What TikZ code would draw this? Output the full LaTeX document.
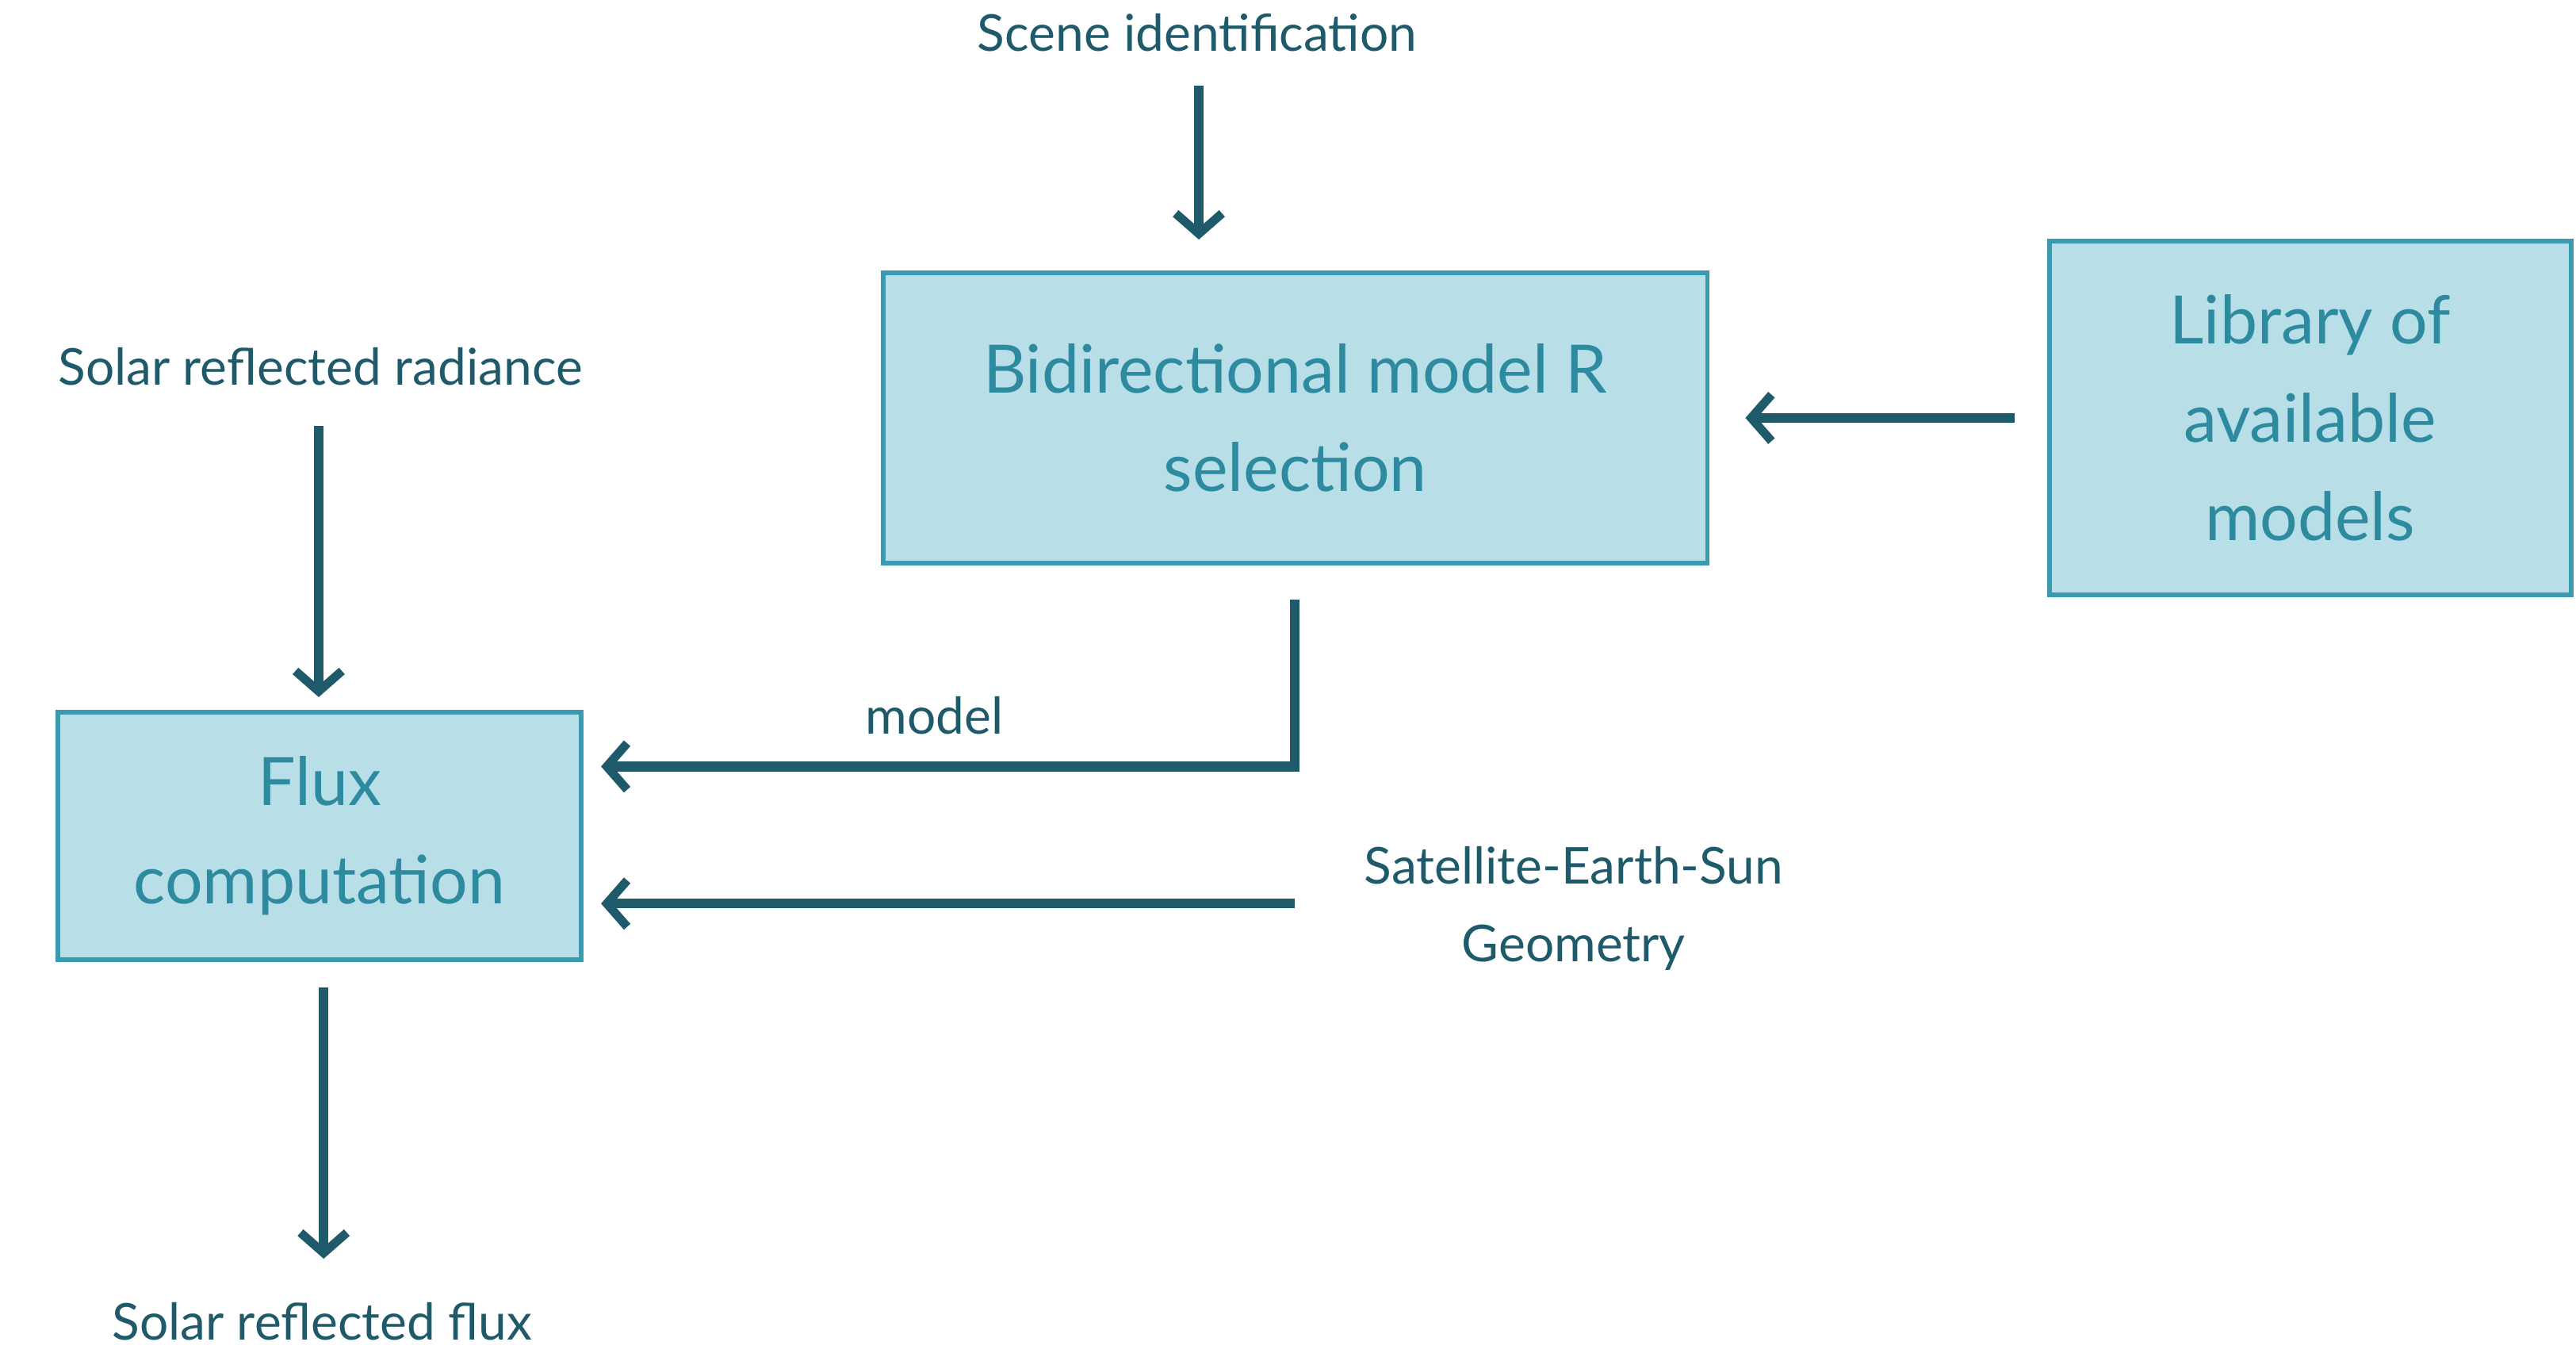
\documentclass[tikz,border=0pt]{standalone}
\usepackage{fontspec}
\setmainfont{Lato}
\usetikzlibrary{arrows.meta}
\definecolor{linec}{HTML}{1F5A6A}
\definecolor{boxfill}{HTML}{B8DEE8}
\definecolor{boxdraw}{HTML}{3A9AB0}
\definecolor{boxtext}{HTML}{2E8A9E}
\tikzset{
  block/.style={draw=boxdraw, fill=boxfill, line width=1.6pt, text=boxtext, align=center,
    font=\fontsize{23}{34}\selectfont, inner sep=0pt},
  label/.style={text=linec, align=center, font=\fontsize{17.5}{27}\selectfont},
  flow/.style={draw=linec, line width=3.4pt, -{Straight Barb[length=7pt,width=16pt,line width=3pt]}}
}
\begin{document}
\begin{tikzpicture}[x=0.02cm,y=-0.02cm]
\useasboundingbox (0,0) rectangle (1560,823.5);
% boxes
\node[block, minimum width=499*0.02cm, minimum height=176*0.02cm] (bidir) at (784.5,253) {Bidirectional model R\\selection};
\node[block, minimum width=316*0.02cm, minimum height=214*0.02cm] (lib) at (1399,253) {Library of\\available\\models};
\node[block, minimum width=317*0.02cm, minimum height=150*0.02cm] (flux) at (193.5,506) {Flux\\computation};
% texts
\node[label] (scene) at (725,20) {Scene identification};
\node[label] (rad) at (194,222) {Solar reflected radiance};
\node[label] (out) at (195,800) {Solar reflected flux};
\node[label] (model) at (566,433) {model};
\node[label] (geom) at (953,550) {Satellite-Earth-Sun\\Geometry};
% free ends
\coordinate (s1) at (726,52);   \coordinate (s2) at (726,145);
\coordinate (r1) at (193,258);  \coordinate (r2) at (193,422);
\coordinate (l1) at (1220,253); \coordinate (l2) at (1057,253);
\coordinate (m1) at (784,363);  \coordinate (m2) at (784,464); \coordinate (m3) at (364,464);
\coordinate (g1) at (784,547);  \coordinate (g2) at (364,547);
\coordinate (f1) at (196,598);  \coordinate (f2) at (196,762);
% arrows
\draw[flow] (s1) -- (s2);
\draw[flow] (r1) -- (r2);
\draw[flow] (l1) -- (l2);
\draw[flow] (m1) -- (m2) -- (m3);
\draw[flow] (g1) -- (g2);
\draw[flow] (f1) -- (f2);
\end{tikzpicture}
\end{document}
